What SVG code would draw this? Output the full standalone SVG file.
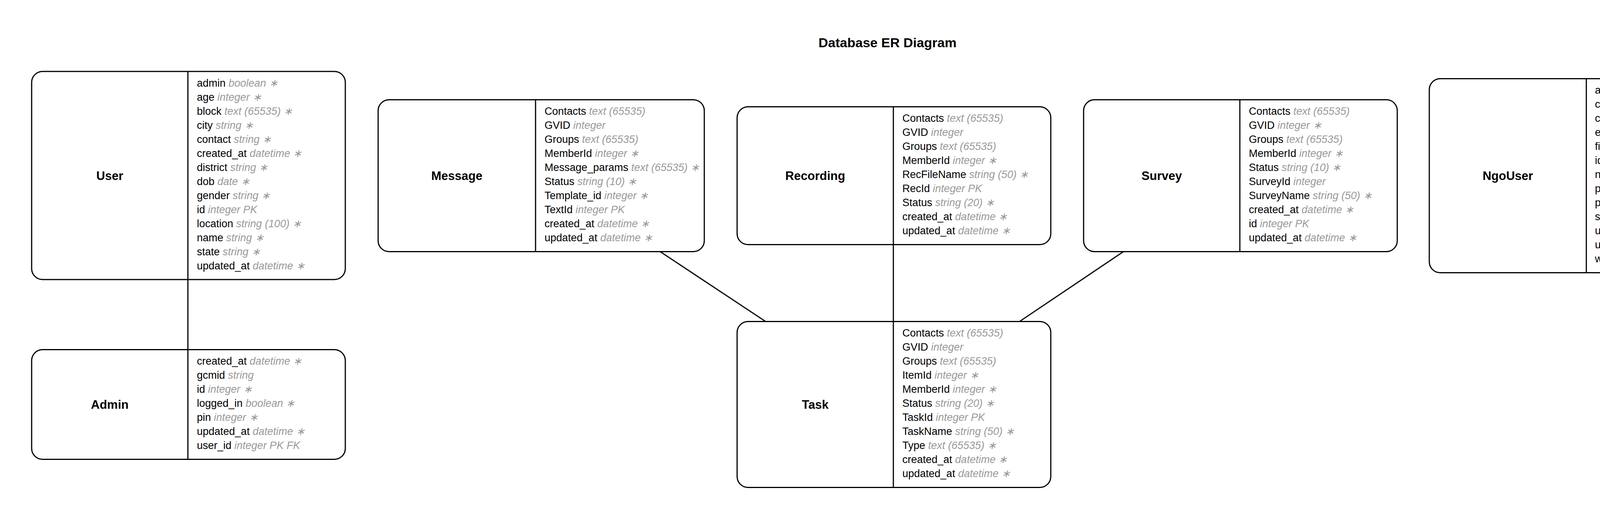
<svg xmlns="http://www.w3.org/2000/svg" width="4545" height="1337" viewBox="0 0 4545 1337">
<style>
.bg{fill:#ffffff}
.box{fill:#ffffff;stroke:#000000;stroke-width:3}
.div{stroke:#000000;stroke-width:3}
.edge{stroke:#000000;stroke-width:3;fill:none}
.title{font-family:"Liberation Sans",Arial,sans-serif;font-weight:bold;font-size:34px;fill:#000000;text-anchor:middle}
.name{font-family:"Liberation Sans",Arial,sans-serif;font-weight:bold;font-size:31px;fill:#000000;text-anchor:middle}
.a{font-family:"Liberation Sans",Arial,sans-serif;font-size:27px;fill:#000000}
.t{fill:#999999;font-style:italic}
</style>
<rect class="bg" x="0" y="0" width="4545" height="1337"/>
<text class="title" x="2272" y="121">Database ER Diagram</text>

<g id="connectors">
<line class="edge" x1="481" y1="716" x2="481" y2="895.5"/>
<line class="edge" x1="1690" y1="644.5" x2="1960" y2="823.5"/>
<line class="edge" x1="2287" y1="626.5" x2="2287" y2="823.5"/>
<line class="edge" x1="2876" y1="644.5" x2="2610" y2="823.5"/>
</g>

<g id="User" transform="translate(81,183)">
<rect class="box" x="0" y="0" width="803" height="533" rx="28" ry="28"/>
<line class="div" x1="400" y1="0" x2="400" y2="533"/>
<text class="name" x="200" y="277.5">User</text>
<text class="a" x="423" y="38.5">admin <tspan class="t">boolean ∗</tspan></text>
<text class="a" x="423" y="74.5">age <tspan class="t">integer ∗</tspan></text>
<text class="a" x="423" y="110.5">block <tspan class="t">text (65535) ∗</tspan></text>
<text class="a" x="423" y="146.5">city <tspan class="t">string ∗</tspan></text>
<text class="a" x="423" y="182.5">contact <tspan class="t">string ∗</tspan></text>
<text class="a" x="423" y="218.5">created_at <tspan class="t">datetime ∗</tspan></text>
<text class="a" x="423" y="254.5">district <tspan class="t">string ∗</tspan></text>
<text class="a" x="423" y="290.5">dob <tspan class="t">date ∗</tspan></text>
<text class="a" x="423" y="326.5">gender <tspan class="t">string ∗</tspan></text>
<text class="a" x="423" y="362.5">id <tspan class="t">integer PK</tspan></text>
<text class="a" x="423" y="398.5">location <tspan class="t">string (100) ∗</tspan></text>
<text class="a" x="423" y="434.5">name <tspan class="t">string ∗</tspan></text>
<text class="a" x="423" y="470.5">state <tspan class="t">string ∗</tspan></text>
<text class="a" x="423" y="506.5">updated_at <tspan class="t">datetime ∗</tspan></text>
</g>

<g id="Admin" transform="translate(81,895.5)">
<rect class="box" x="0" y="0" width="803" height="281" rx="28" ry="28"/>
<line class="div" x1="400" y1="0" x2="400" y2="281"/>
<text class="name" x="200" y="151.5">Admin</text>
<text class="a" x="423" y="38.5">created_at <tspan class="t">datetime ∗</tspan></text>
<text class="a" x="423" y="74.5">gcmid <tspan class="t">string</tspan></text>
<text class="a" x="423" y="110.5">id <tspan class="t">integer ∗</tspan></text>
<text class="a" x="423" y="146.5">logged_in <tspan class="t">boolean ∗</tspan></text>
<text class="a" x="423" y="182.5">pin <tspan class="t">integer ∗</tspan></text>
<text class="a" x="423" y="218.5">updated_at <tspan class="t">datetime ∗</tspan></text>
<text class="a" x="423" y="254.5">user_id <tspan class="t">integer PK FK</tspan></text>
</g>

<g id="Message" transform="translate(968,255.5)">
<rect class="box" x="0" y="0" width="835" height="389" rx="28" ry="28"/>
<line class="div" x1="403" y1="0" x2="403" y2="389"/>
<text class="name" x="201.5" y="205.5">Message</text>
<text class="a" x="426" y="38.5">Contacts <tspan class="t">text (65535)</tspan></text>
<text class="a" x="426" y="74.5">GVID <tspan class="t">integer</tspan></text>
<text class="a" x="426" y="110.5">Groups <tspan class="t">text (65535)</tspan></text>
<text class="a" x="426" y="146.5">MemberId <tspan class="t">integer ∗</tspan></text>
<text class="a" x="426" y="182.5">Message_params <tspan class="t">text (65535) ∗</tspan></text>
<text class="a" x="426" y="218.5">Status <tspan class="t">string (10) ∗</tspan></text>
<text class="a" x="426" y="254.5">Template_id <tspan class="t">integer ∗</tspan></text>
<text class="a" x="426" y="290.5">TextId <tspan class="t">integer PK</tspan></text>
<text class="a" x="426" y="326.5">created_at <tspan class="t">datetime ∗</tspan></text>
<text class="a" x="426" y="362.5">updated_at <tspan class="t">datetime ∗</tspan></text>
</g>

<g id="Recording" transform="translate(1887,273.5)">
<rect class="box" x="0" y="0" width="803" height="353" rx="28" ry="28"/>
<line class="div" x1="400" y1="0" x2="400" y2="353"/>
<text class="name" x="200" y="187.5">Recording</text>
<text class="a" x="423" y="38.5">Contacts <tspan class="t">text (65535)</tspan></text>
<text class="a" x="423" y="74.5">GVID <tspan class="t">integer</tspan></text>
<text class="a" x="423" y="110.5">Groups <tspan class="t">text (65535)</tspan></text>
<text class="a" x="423" y="146.5">MemberId <tspan class="t">integer ∗</tspan></text>
<text class="a" x="423" y="182.5">RecFileName <tspan class="t">string (50) ∗</tspan></text>
<text class="a" x="423" y="218.5">RecId <tspan class="t">integer PK</tspan></text>
<text class="a" x="423" y="254.5">Status <tspan class="t">string (20) ∗</tspan></text>
<text class="a" x="423" y="290.5">created_at <tspan class="t">datetime ∗</tspan></text>
<text class="a" x="423" y="326.5">updated_at <tspan class="t">datetime ∗</tspan></text>
</g>

<g id="Survey" transform="translate(2774,255.5)">
<rect class="box" x="0" y="0" width="803" height="389" rx="28" ry="28"/>
<line class="div" x1="400" y1="0" x2="400" y2="389"/>
<text class="name" x="200" y="205.5">Survey</text>
<text class="a" x="423" y="38.5">Contacts <tspan class="t">text (65535)</tspan></text>
<text class="a" x="423" y="74.5">GVID <tspan class="t">integer ∗</tspan></text>
<text class="a" x="423" y="110.5">Groups <tspan class="t">text (65535)</tspan></text>
<text class="a" x="423" y="146.5">MemberId <tspan class="t">integer ∗</tspan></text>
<text class="a" x="423" y="182.5">Status <tspan class="t">string (10) ∗</tspan></text>
<text class="a" x="423" y="218.5">SurveyId <tspan class="t">integer</tspan></text>
<text class="a" x="423" y="254.5">SurveyName <tspan class="t">string (50) ∗</tspan></text>
<text class="a" x="423" y="290.5">created_at <tspan class="t">datetime ∗</tspan></text>
<text class="a" x="423" y="326.5">id <tspan class="t">integer PK</tspan></text>
<text class="a" x="423" y="362.5">updated_at <tspan class="t">datetime ∗</tspan></text>
</g>

<g id="NgoUser" transform="translate(3659,201.5)">
<rect class="box" x="0" y="0" width="803" height="497" rx="28" ry="28"/>
<line class="div" x1="402" y1="0" x2="402" y2="497"/>
<text class="name" x="201" y="259.5">NgoUser</text>
<text class="a" x="424" y="38.5">authenticated <tspan class="t">boolean ∗</tspan></text>
<text class="a" x="424" y="74.5">city <tspan class="t">string ∗</tspan></text>
<text class="a" x="424" y="110.5">created_at <tspan class="t">datetime ∗</tspan></text>
<text class="a" x="424" y="146.5">email <tspan class="t">string ∗ U</tspan></text>
<text class="a" x="424" y="182.5">field <tspan class="t">string ∗</tspan></text>
<text class="a" x="424" y="218.5">id <tspan class="t">integer PK</tspan></text>
<text class="a" x="424" y="254.5">ngoname <tspan class="t">string ∗ U</tspan></text>
<text class="a" x="424" y="290.5">password <tspan class="t">string ∗</tspan></text>
<text class="a" x="424" y="326.5">phone <tspan class="t">integer (8) ∗ U</tspan></text>
<text class="a" x="424" y="362.5">salt <tspan class="t">string</tspan></text>
<text class="a" x="424" y="398.5">updated_at <tspan class="t">datetime ∗</tspan></text>
<text class="a" x="424" y="434.5">username <tspan class="t">string</tspan></text>
<text class="a" x="424" y="470.5">website <tspan class="t">string ∗ U</tspan></text>
</g>

<g id="Task" transform="translate(1887,823.5)">
<rect class="box" x="0" y="0" width="803" height="425" rx="28" ry="28"/>
<line class="div" x1="400" y1="0" x2="400" y2="425"/>
<text class="name" x="200" y="223.5">Task</text>
<text class="a" x="423" y="38.5">Contacts <tspan class="t">text (65535)</tspan></text>
<text class="a" x="423" y="74.5">GVID <tspan class="t">integer</tspan></text>
<text class="a" x="423" y="110.5">Groups <tspan class="t">text (65535)</tspan></text>
<text class="a" x="423" y="146.5">ItemId <tspan class="t">integer ∗</tspan></text>
<text class="a" x="423" y="182.5">MemberId <tspan class="t">integer ∗</tspan></text>
<text class="a" x="423" y="218.5">Status <tspan class="t">string (20) ∗</tspan></text>
<text class="a" x="423" y="254.5">TaskId <tspan class="t">integer PK</tspan></text>
<text class="a" x="423" y="290.5">TaskName <tspan class="t">string (50) ∗</tspan></text>
<text class="a" x="423" y="326.5">Type <tspan class="t">text (65535) ∗</tspan></text>
<text class="a" x="423" y="362.5">created_at <tspan class="t">datetime ∗</tspan></text>
<text class="a" x="423" y="398.5">updated_at <tspan class="t">datetime ∗</tspan></text>
</g>
</svg>
